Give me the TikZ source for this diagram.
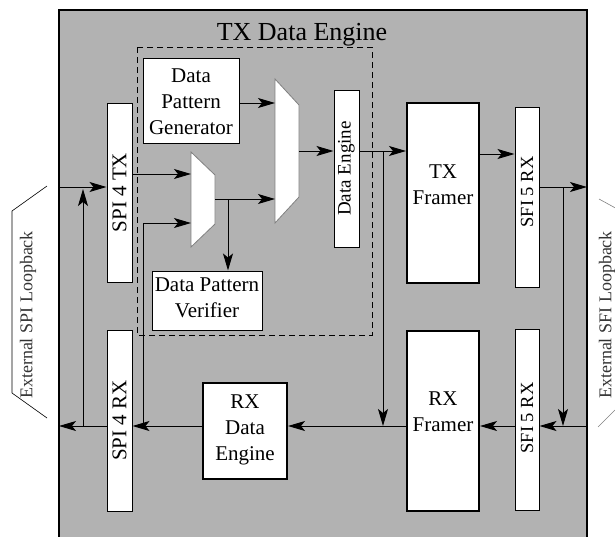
\documentclass[tikz,border=0pt]{standalone}
\usepackage{fontspec}
\setmainfont{Liberation Serif}
\usetikzlibrary{arrows.meta}
\definecolor{bg}{gray}{0.7}
\definecolor{muxline}{gray}{0.5}
\definecolor{looptext}{gray}{0.2}
\begin{document}
\begin{tikzpicture}[x=1pt,y=-1pt,
  conn/.style={line width=1pt,-{Stealth[length=17pt,width=10pt,inset=4pt]}},
  bar/.style={draw,line width=1pt,fill=white,inner sep=0pt},
  blk/.style={draw,line width=2pt,fill=white,inner sep=0pt},
  lbl/.style={font=\fontsize{21}{26}\selectfont,align=center,inner sep=0pt},
  muxshape/.style={draw=muxline,line width=0.8pt,fill=white},
  loopline/.style={line width=0.6pt},
  looplbl/.style={font=\fontsize{18}{22}\selectfont,text=looptext,rotate=90,inner sep=0pt},
]
\useasboundingbox (0,0) rectangle (615,536);
% main box
\draw[fill=bg,line width=2pt] (59,545) -- (59,10) -- (587,10) -- (587,545);
\node[font=\fontsize{26}{30}\selectfont,anchor=base,inner sep=0pt] (title) at (302,40) {TX Data Engine};
% dashed box
\draw[line width=0.8pt,dash pattern=on 6pt off 4pt] (137,47) rectangle (372,335);

% loopback brackets
\draw[loopline] (47,186) -- (12,211) -- (12,393) -- (47,418);
\draw[loopline,draw=muxline] (599,199) -- (630,216);
\draw[loopline,draw=muxline] (598,427) -- (615,410);
\node[looplbl] (spiloop) at (28,315) {External SPI Loopback};
\node[looplbl] (sfiloop) at (607,315) {External SFI Loopback};

% blocks
\node[bar,minimum width=25pt,minimum height=179pt] (spitx) at (119.5,192.5) {};
\node[lbl,rotate=90] (spitxt) at (spitx.center) {SPI 4 TX};
\node[bar,minimum width=25pt,minimum height=181pt] (spirx) at (119.5,420.5) {};
\node[lbl,rotate=90] (spirxt) at (spirx.center) {SPI 4 RX};
\node[bar,minimum width=96pt,minimum height=85pt] (dpg) at (191,100.5) {};
\node[lbl] (dpgt) at (191,102) {Data\\Pattern\\Generator};
\node[bar,minimum width=110pt,minimum height=59pt] (dpv) at (207,300.5) {};
\node[lbl] (dpvt) at (207,298) {Data Pattern\\Verifier};
\node[bar,minimum width=25pt,minimum height=157pt] (de) at (346.5,168.5) {};
\node[lbl,rotate=90,font=\fontsize{19}{23}\selectfont] (det) at (de.center) {Data Engine};
\node[blk,minimum width=72pt,minimum height=180pt] (txf) at (443,193) {};
\node[lbl] (txft) at (443,185) {TX\\Framer};
\node[bar,minimum width=24pt,minimum height=180pt] (sfitx) at (527,197) {};
\node[lbl,rotate=90,font=\fontsize{18.5}{22}\selectfont] (sfitxt) at (527,192) {SFI 5 RX};
\node[bar,minimum width=24pt,minimum height=181pt] (sfirx) at (527,419.5) {};
\node[lbl,rotate=90,font=\fontsize{18.5}{22}\selectfont] (sfirxt) at (527,418) {SFI 5 RX};
\node[blk,minimum width=72pt,minimum height=180pt] (rxf) at (443,421) {};
\node[lbl] (rxft) at (443,412) {RX\\Framer};
\node[blk,minimum width=84pt,minimum height=96pt] (rxde) at (245,431) {};
\node[lbl] (rxdet) at (245,430) {RX\\Data\\Engine};

% multiplexers
\draw[muxshape] (191,152) -- (215,175) -- (215,224) -- (191,247) -- cycle;
\draw[muxshape] (275,79) -- (299,105) -- (299,197) -- (275,223) -- cycle;
\coordinate (sm1) at (191,174);
\coordinate (sm2) at (191,223);
\coordinate (smo) at (215,199);
\coordinate (bm1) at (275,103);
\coordinate (bm2) at (275,199);
\coordinate (bmo) at (299,151);

% connectors
\coordinate (lin) at (59,187);
\draw[conn] (lin) -- (lin -| spitx.west);
\coordinate (lb) at (83,426);
\coordinate (lt) at (83,189);
\draw[conn] (lb) -- (lt);
\draw[conn] (spitx.east |- sm1) -- (sm1);
\coordinate (vb) at (143,426);
\draw[conn] (vb) |- (sm2);
\draw[conn] (dpg.east |- bm1) -- (bm1);
\draw[conn] (smo) -- (bm2);
\coordinate (sbr) at (228,199);
\draw[conn] (sbr) -- (sbr |- dpv.north);
\draw[conn] (bmo) -- (bmo -| de.west);
\draw[conn] (de.east |- bmo) -- (txf.west |- bmo);
\coordinate (dbr) at (383,151);
\coordinate (dbe) at (383,426);
\draw[conn] (dbr) -- (dbe);
\coordinate (tf) at (479,154);
\draw[conn] (txf.east |- tf) -- (sfitx.west |- tf);
\coordinate (rout) at (587,187);
\draw[conn] (sfitx.east |- rout) -- (rout);
\coordinate (rbr) at (563,187);
\coordinate (rbe) at (563,426);
\draw[conn] (rbr) -- (rbe);
\coordinate (rin) at (587,426);
\draw[conn] (rin) -- (rin -| sfirx.east);
\draw[conn] (sfirx.west |- rin) -- (rin -| rxf.east);
\draw[conn] (rxf.west |- rin) -- (rin -| rxde.east);
\draw[conn] (rxde.west |- rin) -- (rin -| spirx.east);
\coordinate (lout) at (59,426);
\draw[conn] (spirx.west |- lout) -- (lout);
\end{tikzpicture}
\end{document}
